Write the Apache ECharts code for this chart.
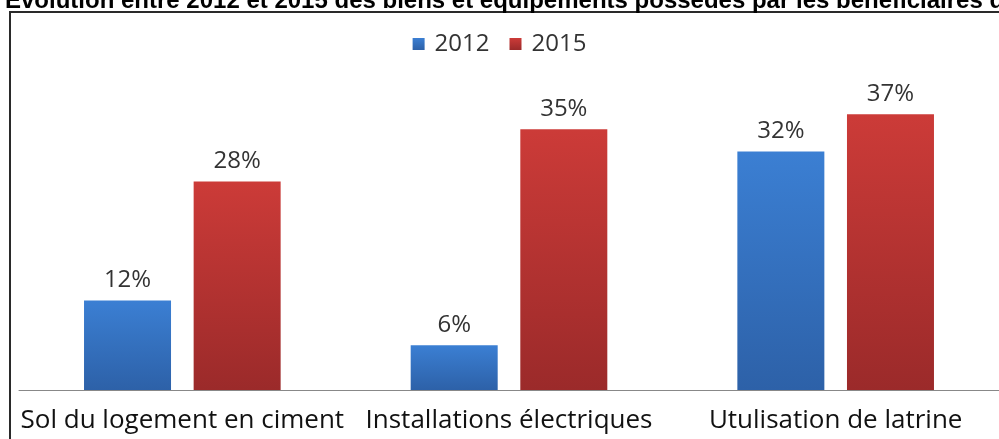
<!DOCTYPE html>
<html>
<head>
<meta charset="utf-8">
<script src="https://cdn.jsdelivr.net/npm/echarts@6/dist/echarts.min.js"></script>
<style>
    html, body { margin: 0; padding: 0; background: #fff; }
    #chart { width: 999px; height: 439px; }
</style>
</head>
<body>
<div id="chart"></div>
<script>
var categories = ['Sol du logement en ciment', 'Installations électriques', 'Utulisation de latrine'];
var years = ['2012', '2015'];
var values2012 = [12, 6, 32];
var values2015 = [28, 35, 37];

var chart = echarts.init(document.getElementById('chart'));

function grad(top, bottom) {
    return new echarts.graphic.LinearGradient(0, 0, 0, 1, [
        { offset: 0, color: top },
        { offset: 1, color: bottom }
    ]);
}

var labelStyle = {
    show: true,
    position: 'top',
    distance: 8,
    formatter: '{c}%',
    color: '#333',
    fontSize: 24,
    fontFamily: 'Open Sans'
};

var option = {
    animation: false,
    title: {
        text: 'Évolution entre 2012 et 2015 des biens et équipements possédés par les bénéficiaires de',
        left: 0,
        top: -16,
        textStyle: { fontFamily: 'Liberation Sans', fontWeight: 'bold', fontSize: 24, color: '#000' }
    },
    graphic: [{
        type: 'rect',
        shape: { x: 10, y: 12, width: 1010, height: 450 },
        style: { fill: 'none', stroke: '#2a2a2a', lineWidth: 2 },
        silent: true
    }],
    legend: {
        data: years,
        top: 27,
        left: 'center',
        itemWidth: 12,
        itemHeight: 12,
        itemGap: 20,
        icon: 'rect',
        textStyle: { fontSize: 24, color: '#333', fontFamily: 'Open Sans', padding: [0, 0, 0, 5] }
    },
    grid: { left: 19, right: -4, top: 92, bottom: 49 },
    xAxis: {
        type: 'category',
        data: categories,
        axisLine: { lineStyle: { color: '#888', width: 1 } },
        axisTick: { show: false },
        axisLabel: { interval: 0, color: '#111', fontSize: 26, margin: 18, fontFamily: 'Open Sans' }
    },
    yAxis: {
        type: 'value',
        min: 0,
        max: 40,
        show: false,
        splitLine: { show: false }
    },
    series: [
        {
            name: '2012',
            type: 'bar',
            data: values2012,
            barWidth: 87,
            barGap: '26%',
            itemStyle: { color: grad('#3b7fd3', '#2d61a8') },
            label: labelStyle
        },
        {
            name: '2015',
            type: 'bar',
            data: values2015,
            barWidth: 87,
            itemStyle: { color: grad('#cc3b38', '#9b2a2a') },
            label: labelStyle
        }
    ]
};

chart.setOption(option);
</script>
</body>
</html>
